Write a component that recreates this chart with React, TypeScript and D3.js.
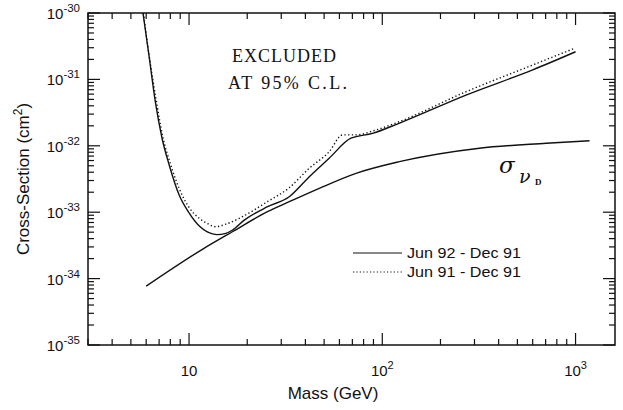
import React from "react";
import * as d3 from "d3";

// ---- data ----
const solidMass = [5.75, 6.2, 6.7, 7.25, 7.9, 8.9, 10, 11.3, 12.5, 13.9, 15.5, 16.8, 19.3, 25.5, 33, 41.9, 53.1, 68.8, 89, 122, 271, 600, 1000];
const solidXsec = [1.1e-30, 2.33e-31, 4.5e-32, 1.3e-32, 5.1e-33, 1.8e-33, 9.8e-34, 6.2e-34, 5.0e-34, 4.6e-34, 4.8e-34, 5.4e-34, 7.6e-34, 1.21e-33, 1.71e-33, 3.43e-33, 6.5e-33, 1.3e-32, 1.54e-32, 2.18e-32, 5.8e-32, 1.39e-31, 2.61e-31];

const dotMass = [5.8, 6.2, 6.75, 7.3, 8.0, 9.2, 10, 11.3, 12.5, 13.75, 15.5, 18.2, 25.45, 33, 41.85, 53.1, 62.3, 73.1, 92.7, 122.5, 271.5, 601, 988];
const dotXsec = [1.0e-30, 2.4e-31, 5.0e-32, 1.4e-32, 5.4e-33, 1.82e-33, 1.18e-33, 8.1e-34, 6.7e-34, 6.05e-34, 6.6e-34, 8.1e-34, 1.44e-33, 2.34e-33, 4.58e-33, 8.15e-33, 1.46e-32, 1.46e-32, 1.73e-32, 2.31e-32, 6.53e-32, 1.65e-31, 2.94e-31];

const theoryMass = [6.0, 11.72, 16.76, 25.45, 33, 47.2, 73.1, 122.5, 318, 705, 1182];
const theoryXsec = [7.7e-35, 2.76e-34, 5.08e-34, 1.02e-33, 1.44e-33, 2.29e-33, 3.85e-33, 5.77e-33, 9.2e-33, 1.09e-32, 1.19e-32];

const xDomain = [3, 1600];
const yDomain = [1e-35, 1e-30];
const xMajor = [10, 100, 1000];
const xMajorExp = ["", "2", "3"];
const yMajor = [1e-30, 1e-31, 1e-32, 1e-33, 1e-34, 1e-35];
const yMajorExp = ["-30", "-31", "-32", "-33", "-34", "-35"];
const legendLabels = ["Jun 92 - Dec 91", "Jun 91 - Dec 91"];
const excludedText = ["EXCLUDED", "AT 95% C.L."];

const W = 623, H = 410;
const M = { left: 88, top: 13, right: 8, bottom: 65 };

export default function App() {
  const x = d3.scaleLog().domain(xDomain).range([M.left, W - M.right]);
  const y = d3.scaleLog().domain(yDomain).range([H - M.bottom, M.top]);
  const x0 = M.left, x1 = W - M.right, y0 = H - M.bottom, y1 = M.top;

  const line = d3
    .line<[number, number]>()
    .x((d) => x(d[0]))
    .y((d) => y(d[1]))
    .curve(d3.curveMonotoneX);

  const zip = (a: number[], b: number[]) => a.map((v, i) => [v, b[i]] as [number, number]);

  const xTicks: { v: number; major: boolean }[] = [];
  for (let e = 0; e <= 3; e++) {
    for (let k = 1; k <= 9; k++) {
      const v = k * Math.pow(10, e);
      if (v >= xDomain[0] && v <= xDomain[1]) xTicks.push({ v, major: k === 1 });
    }
  }
  const yTicks: { v: number; major: boolean }[] = [];
  for (let e = -35; e <= -31; e++) {
    for (let k = 1; k <= 9; k++) {
      yTicks.push({ v: k * Math.pow(10, e), major: k === 1 });
    }
  }
  yTicks.push({ v: 1e-30, major: true });

  const sans = "'Liberation Sans', Arial, sans-serif";
  const serif = "'Liberation Serif', 'Times New Roman', serif";
  const greek = "'DejaVu Serif', serif";
  const majL = 12, minL = 6;

  return (
    <svg width={W} height={H} style={{ position: "absolute", left: 0, top: 0, background: "#fff" }}>
      <defs>
        <clipPath id="plot">
          <rect x={x0} y={y1} width={x1 - x0} height={y0 - y1} />
        </clipPath>
      </defs>
      <rect x={x0} y={y1} width={x1 - x0} height={y0 - y1} fill="none" stroke="#111" strokeWidth={1.5} />
      {xTicks.map((t, i) => {
        const L = t.major ? majL : minL;
        const px = x(t.v);
        return (
          <g key={"xt" + i} stroke="#111" strokeWidth={1.2}>
            <line x1={px} x2={px} y1={y0} y2={y0 - L} />
            <line x1={px} x2={px} y1={y1} y2={y1 + L} />
          </g>
        );
      })}
      {yTicks.map((t, i) => {
        const L = t.major ? majL : minL;
        const py = y(t.v);
        return (
          <g key={"yt" + i} stroke="#111" strokeWidth={1.2}>
            <line x1={x0} x2={x0 + L} y1={py} y2={py} />
            <line x1={x1} x2={x1 - L} y1={py} y2={py} />
          </g>
        );
      })}
      {xMajor.map((v, i) => (
        <text key={"xl" + i} x={x(v)} y={y0 + 31} textAnchor="middle" fontFamily={sans} fontSize={15} fill="#111">
          10
          {xMajorExp[i] && (
            <tspan fontSize={11} dy={-7}>
              {xMajorExp[i]}
            </tspan>
          )}
        </text>
      ))}
      {yMajor.map((v, i) => (
        <text key={"yl" + i} x={x0 - 8} y={y(v) + 6} textAnchor="end" fontFamily={sans} fontSize={15} fill="#111">
          10
          <tspan fontSize={11.5} dy={-7}>
            {yMajorExp[i]}
          </tspan>
        </text>
      ))}
      <text x={333} y={H - 11} textAnchor="middle" fontFamily={sans} fontSize={17} fill="#111">
        Mass (GeV)
      </text>
      <text transform={`translate(29,${(y0 + y1) / 2}) rotate(-90)`} textAnchor="middle" fontFamily={sans} fontSize={17} fill="#111">
        Cross-Section (cm
        <tspan fontSize={12} dy={-7}>2</tspan>
        <tspan dy={7}>)</tspan>
      </text>
      <g clipPath="url(#plot)" fill="none">
        <path d={line(zip(theoryMass, theoryXsec)) || ""} stroke="#111" strokeWidth={1.4} />
        <path d={line(zip(solidMass, solidXsec)) || ""} stroke="#111" strokeWidth={1.4} />
        <path d={line(zip(dotMass, dotXsec)) || ""} stroke="#111" strokeWidth={1.4} strokeDasharray="1.3,2.4" />
      </g>
      <text x={232} y={62} fontFamily={serif} fontSize={18} fill="#111" textLength={104} lengthAdjust="spacing">
        {excludedText[0]}
      </text>
      <text x={228} y={89} fontFamily={serif} fontSize={18} fill="#111" textLength={119} lengthAdjust="spacing">
        {excludedText[1]}
      </text>
      <text x={499} y={173} fontFamily={greek} fontStyle="italic" fontSize={23} fill="#111">
        σ
      </text>
      <text x={519} y={183} fontFamily={greek} fontStyle="italic" fontSize={19} fill="#111">
        ν
      </text>
      <text x={535} y={185} fontFamily={serif} fontWeight="bold" fontSize={9} fill="#111">
        D
      </text>
      {legendLabels.map((lab, i) => {
        const ly = 253 + i * 19;
        return (
          <g key={"lg" + i}>
            <line x1={353} x2={402} y1={ly} y2={ly} stroke="#111" strokeWidth={1.2} strokeDasharray={i === 1 ? "1.2,2.2" : undefined} />
            <text x={407} y={ly + 5} fontFamily={sans} fontSize={15} fill="#111" textLength={114} lengthAdjust="spacingAndGlyphs">
              {lab}
            </text>
          </g>
        );
      })}
    </svg>
  );
}
